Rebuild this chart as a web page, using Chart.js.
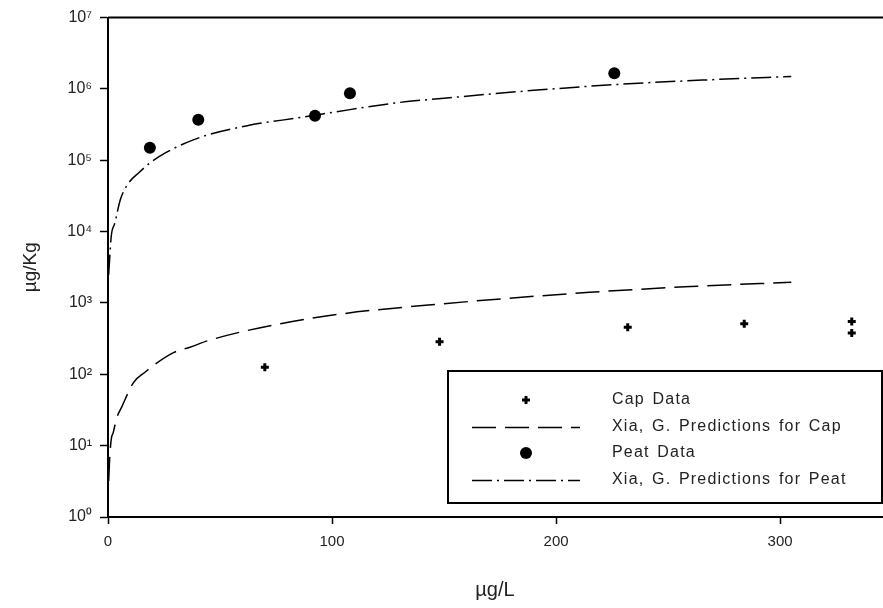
<!DOCTYPE html>
<html>
<head>
<meta charset="utf-8">
<script src="https://cdn.jsdelivr.net/npm/chart.js@4.4.1/dist/chart.umd.min.js"></script>
<style>
  html, body { margin: 0; padding: 0; background: #fff; }
</style>
</head>
<body>
<canvas id="isoChart" width="883" height="608"></canvas>
<script>
// measured points
const capX = [70, 148, 232, 284, 332, 332];
const capY = [126, 285, 457, 513, 550, 380];
const peatX = [18.7, 40.3, 92.4, 108, 226];
const peatY = [150000, 370000, 420000, 870000, 1660000];

// prediction curves
const capFitX = [0.3, 0.8, 1.5, 2.3, 3.9, 6.1, 11.3, 16.5, 29, 36.6, 45.5, 77, 105, 150, 215, 260, 305];
const capFitY = [3.2, 7.1, 12.6, 15.1, 24.5, 34.7, 76, 107, 200, 240, 302, 513, 708, 977, 1410, 1700, 1950];
const peatFitX = [0.3, 0.8, 1.5, 3, 5.5, 9, 14, 19, 26, 41, 63, 86, 108, 130, 150, 190, 230, 270, 305];
const peatFitY = [2500, 4500, 8900, 13000, 28000, 47000, 68000, 93000, 129000, 209000, 309000, 398000, 513000, 646000, 741000, 955000, 1170000, 1350000, 1500000];

const xTicks = [0, 100, 200, 300];
const yTicks = [1, 10, 100, 1000, 10000, 100000, 1000000, 10000000];
const yTickLabels = ["10⁰", "10¹", "10²", "10³", "10⁴", "10⁵", "10⁶", "10⁷"];

const labels = ["Cap Data", "Xia, G. Predictions for Cap", "Peat Data", "Xia, G. Predictions for Peat"];

const FONT = "'Liberation Sans', Arial, sans-serif";

function toPoints(xs, ys) {
  return xs.map((x, i) => ({ x, y: ys[i] }));
}

const frameTop = {
  id: "frameTop",
  afterDraw(chart) {
    const { ctx, chartArea } = chart;
    ctx.save();
    ctx.strokeStyle = "#000";
    ctx.lineWidth = 2;
    ctx.beginPath();
    ctx.moveTo(chartArea.left, chartArea.top);
    ctx.lineTo(chart.width, chartArea.top);
    ctx.stroke();
    ctx.restore();
  }
};

const boxLegend = {
  id: "boxLegend",
  afterDraw(chart) {
    const { ctx, chartArea } = chart;
    const right = chartArea.right;
    const bottom = chartArea.bottom - 14;
    const left = right - 434;
    const top = bottom - 132;
    ctx.save();
    ctx.fillStyle = "#fff";
    ctx.fillRect(left, top, right - left, bottom - top);
    ctx.strokeStyle = "#000";
    ctx.lineWidth = 2;
    ctx.strokeRect(left, top, right - left, bottom - top);

    const symX = left + 78;
    const textX = left + 164;
    ctx.font = "16px " + FONT;
    ctx.letterSpacing = "1.2px";
    ctx.wordSpacing = "2px";
    ctx.textBaseline = "middle";

    chart.data.datasets.forEach((ds, i) => {
      const y = top + 29 + i * 26.5;
      ctx.fillStyle = "#222";
      ctx.fillText(ds.label, textX, y);
      ctx.strokeStyle = "#000";
      ctx.fillStyle = "#000";
      if (ds.showLine) {
        ctx.lineWidth = 1.5;
        ctx.setLineDash(ds.borderDash);
        ctx.beginPath();
        ctx.moveTo(symX - 54, y + 1);
        ctx.lineTo(symX + 54, y + 1);
        ctx.stroke();
        ctx.setLineDash([]);
      } else if (ds.pointStyle === "circle") {
        ctx.beginPath();
        ctx.arc(symX, y, 6, 0, Math.PI * 2);
        ctx.fill();
      } else {
        ctx.lineWidth = 3;
        ctx.beginPath();
        ctx.moveTo(symX - 4, y);
        ctx.lineTo(symX + 4, y);
        ctx.moveTo(symX, y - 4);
        ctx.lineTo(symX, y + 4);
        ctx.stroke();
      }
    });
    ctx.restore();
  }
};

new Chart(document.getElementById("isoChart"), {
  type: "scatter",
  data: {
    datasets: [
      {
        label: labels[0],
        data: toPoints(capX, capY),
        pointStyle: "cross",
        radius: 4,
        borderWidth: 3,
        borderColor: "#000",
        backgroundColor: "#000"
      },
      {
        label: labels[1],
        data: toPoints(capFitX, capFitY),
        showLine: true,
        pointRadius: 0,
        borderColor: "#000",
        borderWidth: 1.5,
        borderDash: [24, 9],
        cubicInterpolationMode: "monotone"
      },
      {
        label: labels[2],
        data: toPoints(peatX, peatY),
        pointStyle: "circle",
        radius: 6,
        borderWidth: 0,
        backgroundColor: "#000"
      },
      {
        label: labels[3],
        data: toPoints(peatFitX, peatFitY),
        showLine: true,
        pointRadius: 0,
        borderColor: "#000",
        borderWidth: 1.5,
        borderDash: [20, 5, 2, 5],
        cubicInterpolationMode: "monotone"
      }
    ]
  },
  options: {
    responsive: false,
    animation: false,
    layout: { autoPadding: false, padding: { top: 17, right: 1, left: 0, bottom: 0 } },
    plugins: {
      legend: { display: false },
      tooltip: { enabled: false }
    },
    scales: {
      x: {
        type: "linear",
        min: 0,
        max: 345.5,
        afterFit: (s) => { s.height = 91; },
        afterBuildTicks: (s) => { s.ticks = xTicks.map(v => ({ value: v })); },
        grid: { drawOnChartArea: false, drawTicks: true, tickLength: 7, tickColor: "#000", tickWidth: 1.5 },
        border: { display: true, color: "#000", width: 2 },
        ticks: { padding: 9, color: "#222", font: { family: FONT, size: 15 } },
        title: { display: true, text: "µg/L", color: "#222", font: { family: FONT, size: 20 }, padding: { bottom: 6 } }
      },
      y: {
        type: "logarithmic",
        min: 1,
        max: 10000000,
        afterFit: (s) => { s.width = 108; },
        afterBuildTicks: (s) => { s.ticks = yTicks.map(v => ({ value: v })); },
        grid: { drawOnChartArea: false, drawTicks: true, tickLength: 8, tickColor: "#000", tickWidth: 1.5 },
        border: { display: true, color: "#000", width: 2 },
        ticks: {
          padding: 8,
          color: "#222",
          font: { family: FONT, size: 16 },
          callback: (v) => { const i = yTicks.indexOf(v); return i >= 0 ? yTickLabels[i] : ""; }
        },
        title: { display: true, text: "µg/Kg", color: "#222", font: { family: FONT, size: 19 }, padding: { top: 19 } }
      }
    }
  },
  plugins: [frameTop, boxLegend]
});
</script>
</body>
</html>
